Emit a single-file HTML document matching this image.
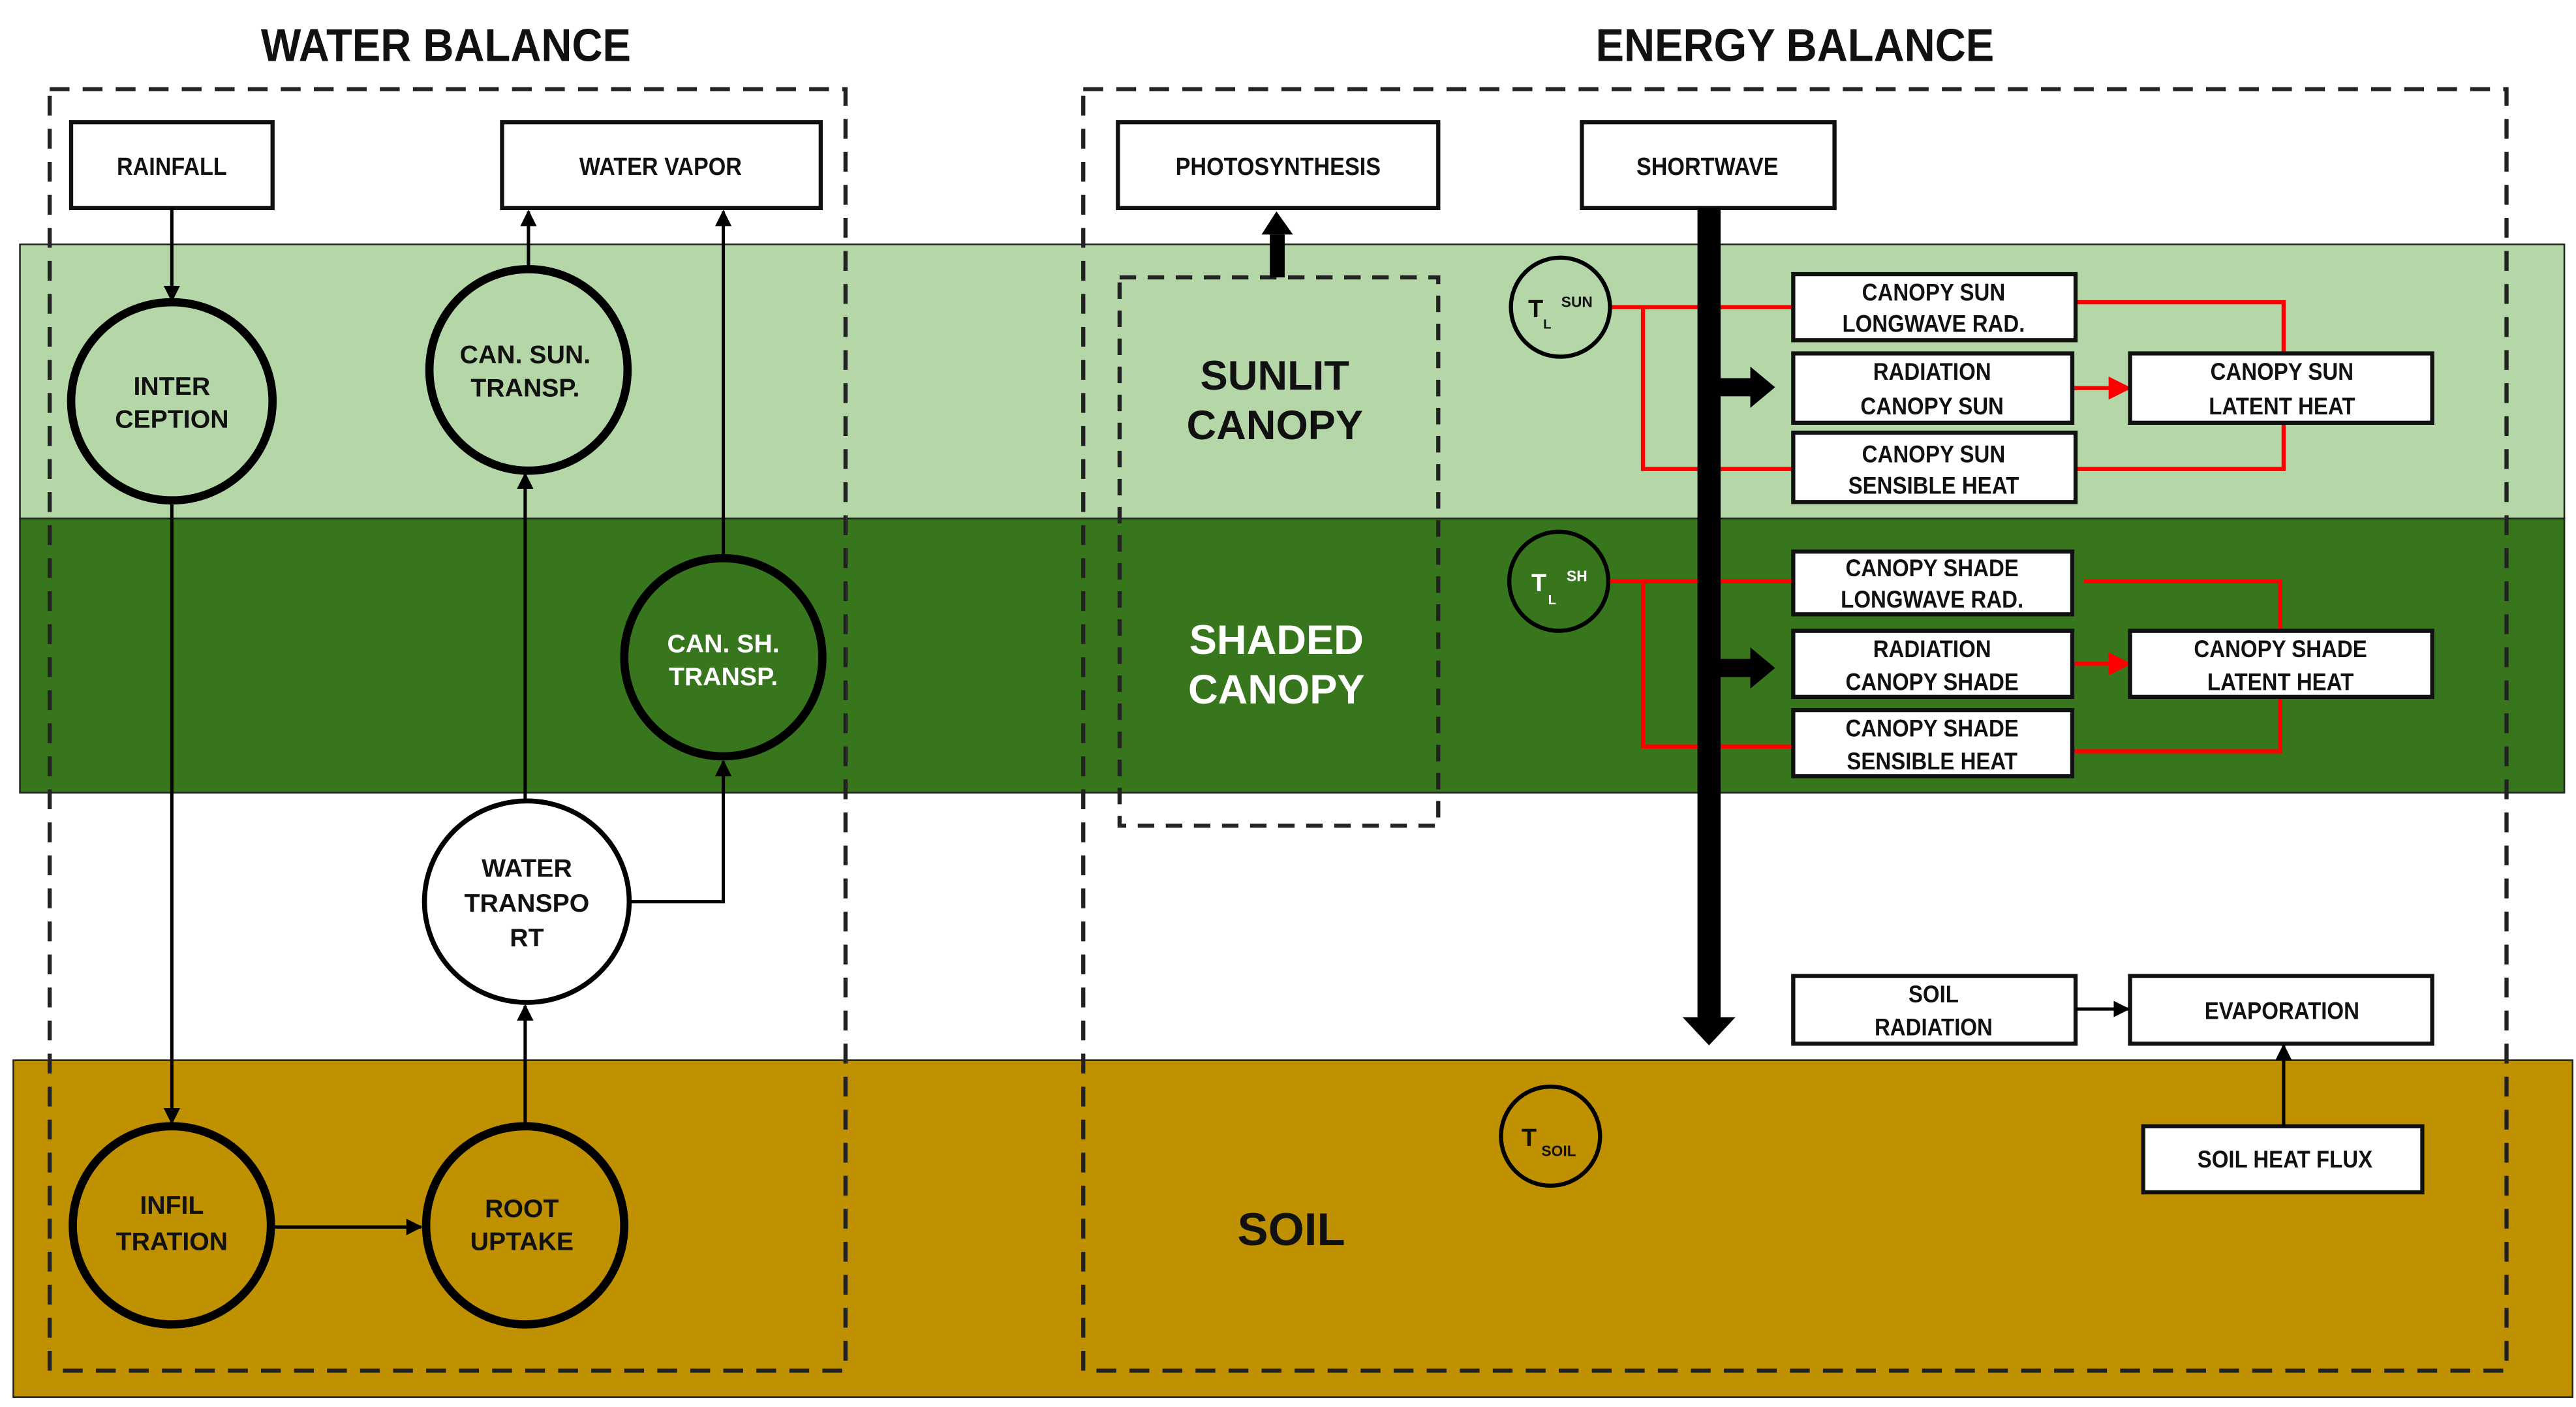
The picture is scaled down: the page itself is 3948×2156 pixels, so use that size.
<!DOCTYPE html>
<html><head><meta charset="utf-8"><style>
html,body{margin:0;padding:0;background:#fff;}
svg{display:block;}
text{font-family:"Liberation Sans",Arial,sans-serif;font-weight:bold;text-anchor:middle;fill:#111;}
text.w{fill:#fff;}
</style></head><body>
<svg width="3948" height="2156" viewBox="0 0 1560 852" xmlns="http://www.w3.org/2000/svg">
<defs>
<marker id="a" markerWidth="10" markerHeight="10" refX="9" refY="5" orient="auto" markerUnits="userSpaceOnUse"><path d="M0,0 L10,5 L0,10 z" fill="#000"/></marker>
<marker id="r" markerWidth="14" markerHeight="14" refX="13" refY="7" orient="auto" markerUnits="userSpaceOnUse"><path d="M0,0 L14,7 L0,14 z" fill="#f00"/></marker>
</defs>
<rect x="0" y="0" width="1560" height="852" fill="#fff"/>
<rect x="12" y="148" width="1541" height="166" fill="#b5d7a8" stroke="#222" stroke-width="1"/>
<rect x="12" y="314" width="1541" height="166" fill="#38761d" stroke="#222" stroke-width="1"/>
<rect x="8" y="642" width="1550" height="204" fill="#bf9000" stroke="#222" stroke-width="1"/>
<text x="270" y="37" font-size="28" transform="translate(270 0) scale(0.92 1) translate(-270 0)">WATER BALANCE</text>
<text x="1087" y="37" font-size="28" transform="translate(1087 0) scale(0.92 1) translate(-1087 0)">ENERGY BALANCE</text>
<rect x="30" y="54" width="482" height="776" fill="none" stroke="#222" stroke-width="2.5" stroke-dasharray="12,8"/>
<rect x="656" y="54" width="862" height="776" fill="none" stroke="#222" stroke-width="2.5" stroke-dasharray="12,8"/>
<rect x="678" y="168" width="193" height="332" fill="none" stroke="#222" stroke-width="2.5" stroke-dasharray="10,7"/>
<g stroke="#111" stroke-width="2.5" fill="#fff">
<rect x="43" y="74" width="122" height="52"/>
<rect x="304" y="74" width="193" height="52"/>
<rect x="677" y="74" width="194" height="52"/>
<rect x="958" y="74" width="153" height="52"/>
</g>
<g font-size="15">
<text x="104" y="106" transform="translate(104 0) scale(0.9 1) translate(-104 0)">RAINFALL</text>
<text x="400" y="106" transform="translate(400 0) scale(0.9 1) translate(-400 0)">WATER VAPOR</text>
<text x="774" y="106" transform="translate(774 0) scale(0.9 1) translate(-774 0)">PHOTOSYNTHESIS</text>
<text x="1034" y="106" transform="translate(1034 0) scale(0.9 1) translate(-1034 0)">SHORTWAVE</text>
</g>
<g stroke="#000" stroke-width="2" fill="none" marker-end="url(#a)">
<line x1="104" y1="126" x2="104" y2="182"/>
<line x1="104" y1="304" x2="104" y2="680"/>
<line x1="166" y1="743" x2="255" y2="743"/>
<line x1="318" y1="682" x2="318" y2="609"/>
<line x1="318" y1="484" x2="318" y2="287"/>
<line x1="320" y1="162" x2="320" y2="128"/>
<line x1="438" y1="338" x2="438" y2="128"/>
<polyline points="380,546 438,546 438,461"/>
</g>
<g stroke="#000" stroke-width="5">
<ellipse cx="104" cy="243" rx="61" ry="60" fill="#b5d7a8"/>
<ellipse cx="320" cy="224" rx="60" ry="61" fill="#b5d7a8"/>
<ellipse cx="438" cy="398" rx="60" ry="60" fill="#38761d"/>
<ellipse cx="104" cy="742" rx="60" ry="60" fill="#bf9000"/>
<ellipse cx="318" cy="742" rx="60" ry="60" fill="#bf9000"/>
</g>
<ellipse cx="319" cy="546" rx="62" ry="61" fill="#fff" stroke="#000" stroke-width="3"/>
<g font-size="15.5">
<text x="104" y="239">INTER</text><text x="104" y="259">CEPTION</text>
<text x="318" y="220">CAN. SUN.</text><text x="318" y="240">TRANSP.</text>
<text x="438" y="395" class="w">CAN. SH.</text><text x="438" y="415" class="w">TRANSP.</text>
<text x="319" y="531">WATER</text><text x="319" y="552">TRANSPO</text><text x="319" y="573">RT</text>
<text x="104" y="735">INFIL</text><text x="104" y="757">TRATION</text>
<text x="316" y="737">ROOT</text><text x="316" y="757">UPTAKE</text>
</g>
<rect x="769" y="142" width="9" height="26" fill="#000"/>
<path d="M764,142 L773,128 L783,142 z" fill="#000"/>
<g font-size="25">
<text x="772" y="236">SUNLIT</text><text x="772" y="266">CANOPY</text>
<text x="773" y="396" class="w">SHADED</text><text x="773" y="426" class="w">CANOPY</text>
<text x="782" y="754" font-size="28">SOIL</text>
</g>
<g stroke="#f00" stroke-width="2.5" fill="none">
<line x1="975" y1="186" x2="1086" y2="186"/>
<polyline points="995,186 995,284 1086,284"/>
<polyline points="1257,183 1383,183 1383,214"/>
<polyline points="1257,284 1383,284 1383,256"/>
<line x1="974" y1="352" x2="1086" y2="352"/>
<polyline points="995,352 995,452 1086,452"/>
<polyline points="1262,352 1381,352 1381,382"/>
<polyline points="1255,455 1381,455 1381,422"/>
<line x1="1255" y1="235" x2="1290" y2="235" marker-end="url(#r)"/>
<line x1="1255" y1="402" x2="1290" y2="402" marker-end="url(#r)"/>
</g>
<rect x="1028" y="126" width="14" height="492" fill="#000"/>
<path d="M1019,616 L1035,633 L1051,616 z" fill="#000"/>
<rect x="1042" y="229" width="20" height="11" fill="#000"/><path d="M1060,222 L1075,234.5 L1060,247 z" fill="#000"/>
<rect x="1042" y="399" width="20" height="11" fill="#000"/><path d="M1060,392 L1075,404.5 L1060,417 z" fill="#000"/>
<g stroke="#000" stroke-width="2.5">
<circle cx="945" cy="186" r="30" fill="#b5d7a8"/>
<circle cx="944" cy="352" r="30" fill="#38761d"/>
<circle cx="939" cy="688" r="30" fill="#bf9000"/>
</g>
<text x="930" y="192" font-size="15">T</text><text x="937" y="199" font-size="8">L</text><text x="955" y="186" font-size="9">SUN</text>
<text x="932" y="358" font-size="15" class="w">T</text><text x="940" y="366" font-size="8" class="w">L</text><text x="955" y="352" font-size="9" class="w">SH</text>
<text x="926" y="694" font-size="15">T</text><text x="944" y="700" font-size="9">SOIL</text>
<g stroke="#111" stroke-width="2.5" fill="#fff">
<rect x="1086" y="166" width="171" height="40"/>
<rect x="1086" y="214" width="169" height="42"/>
<rect x="1086" y="262" width="171" height="42"/>
<rect x="1290" y="214" width="183" height="42"/>
<rect x="1086" y="334" width="169" height="38"/>
<rect x="1086" y="382" width="169" height="40"/>
<rect x="1086" y="430" width="169" height="40"/>
<rect x="1290" y="382" width="183" height="40"/>
<rect x="1086" y="591" width="171" height="41"/>
<rect x="1290" y="591" width="183" height="41"/>
<rect x="1298" y="682" width="169" height="40"/>
</g>
<g font-size="14.5">
<g transform="translate(1171 0) scale(0.9 1) translate(-1171 0)">
<text x="1171" y="182">CANOPY SUN</text><text x="1171" y="201">LONGWAVE RAD.</text>
<text x="1170" y="230">RADIATION</text><text x="1170" y="251">CANOPY SUN</text>
<text x="1171" y="280">CANOPY SUN</text><text x="1171" y="299">SENSIBLE  HEAT</text>
<text x="1170" y="349">CANOPY SHADE</text><text x="1170" y="368">LONGWAVE RAD.</text>
<text x="1170" y="398">RADIATION</text><text x="1170" y="418">CANOPY SHADE</text>
<text x="1170" y="446">CANOPY SHADE</text><text x="1170" y="466">SENSIBLE  HEAT</text>
<text x="1171" y="607">SOIL</text><text x="1171" y="627">RADIATION</text>
</g>
<g transform="translate(1382 0) scale(0.9 1) translate(-1382 0)">
<text x="1382" y="230">CANOPY SUN</text><text x="1382" y="251">LATENT HEAT</text>
<text x="1381" y="398">CANOPY SHADE</text><text x="1381" y="418">LATENT HEAT</text>
<text x="1382" y="617">EVAPORATION</text>
<text x="1384" y="707">SOIL HEAT FLUX</text>
</g>
</g>
<g stroke="#000" stroke-width="2" marker-end="url(#a)">
<line x1="1257" y1="611" x2="1289" y2="611"/>
<line x1="1383" y1="682" x2="1383" y2="633"/>
</g>
</svg>
</body></html>
